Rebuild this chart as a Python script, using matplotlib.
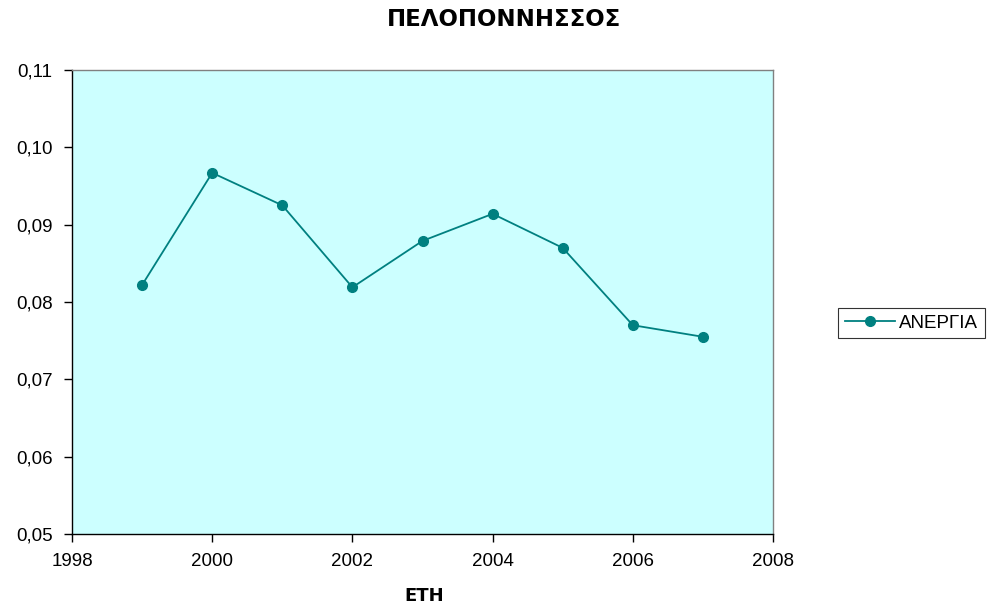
import matplotlib
matplotlib.use("Agg")
import matplotlib.pyplot as plt
from matplotlib.ticker import FuncFormatter

plt.rcParams['font.family'] = ['Liberation Sans', 'DejaVu Sans']

years = [1999, 2000, 2001, 2002, 2003, 2004, 2005, 2006, 2007]
unemployment = [0.0822, 0.0967, 0.0925, 0.0819, 0.0879, 0.0914, 0.0870, 0.0770, 0.0755]

line_color = '#008080'

fig = plt.figure(figsize=(9.9, 6.05), dpi=100)
ax = fig.add_axes([72 / 990, 1 - 534 / 605, (773 - 72) / 990, (534 - 70) / 605])
ax.set_facecolor('#CCFFFF')

ax.plot(years, unemployment, color=line_color, linewidth=1.3, marker='o',
        markersize=7, label='ΑΝΕΡΓΙΑ')

ax.set_xlim(1998, 2008)
ax.set_ylim(0.05, 0.11)
ax.set_xticks(range(1998, 2009, 2))
ax.set_yticks([0.05, 0.06, 0.07, 0.08, 0.09, 0.10, 0.11])
ax.yaxis.set_major_formatter(FuncFormatter(lambda v, p: f"{v:.2f}".replace('.', ',')))
ax.tick_params(direction='out', length=6, width=1, labelsize=13.5)
ax.tick_params(axis='y', pad=8)
ax.tick_params(axis='x', pad=8)

for side in ['left', 'bottom']:
    ax.spines[side].set_color('black')
    ax.spines[side].set_linewidth(1)
for side in ['top', 'right']:
    ax.spines[side].set_color('#808080')
    ax.spines[side].set_linewidth(1)

# τίτλοι σε πιο φαρδιά γραμματοσειρά, όπως στο Excel
fig.text(424 / 990, 1 - 596 / 605, 'ΕΤΗ', ha='center', va='center',
         fontsize=13, fontweight='bold', family='DejaVu Sans')
fig.text(504 / 990, 1 - 19 / 605, 'ΠΕΛΟΠΟΝΝΗΣΣΟΣ', ha='center', va='center',
         fontsize=16.5, fontweight='bold', family='DejaVu Sans')

leg = fig.legend(loc='center left', bbox_to_anchor=(838 / 990, 1 - 323 / 605),
                 fontsize=13.5, frameon=True, fancybox=False, edgecolor='black',
                 handlelength=2.7, borderpad=0.35, handletextpad=0.2,
                 borderaxespad=0)
leg.get_frame().set_linewidth(0.8)

fig.savefig('out.png', dpi=100)
